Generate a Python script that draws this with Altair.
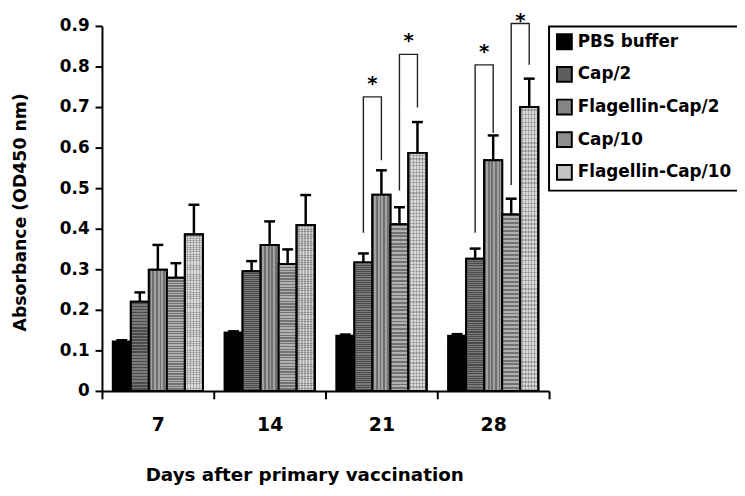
import altair as alt
import pandas as pd

# ---------------- data ----------------
days = ["7", "14", "21", "28"]
groups = ["PBS buffer", "Cap/2", "Flagellin-Cap/2", "Cap/10", "Flagellin-Cap/10"]

pbs = [0.122, 0.144, 0.136, 0.136]
pbs_err = [0.003, 0.003, 0.003, 0.004]
cap2 = [0.220, 0.295, 0.317, 0.326]
cap2_err = [0.023, 0.025, 0.022, 0.025]
fcap2 = [0.299, 0.360, 0.484, 0.569]
fcap2_err = [0.061, 0.058, 0.060, 0.061]
cap10 = [0.279, 0.313, 0.411, 0.435]
cap10_err = [0.036, 0.036, 0.042, 0.039]
fcap10 = [0.386, 0.409, 0.587, 0.700]
fcap10_err = [0.073, 0.074, 0.076, 0.070]

# significance brackets
br_day = ["21", "21", "28", "28"]
br_from = ["Cap/2", "Cap/10", "Cap/2", "Cap/10"]
br_to = ["Flagellin-Cap/2", "Flagellin-Cap/10", "Flagellin-Cap/2", "Flagellin-Cap/10"]
br_low_from = [0.390, 0.494, 0.390, 0.508]
br_low_to = [0.569, 0.699, 0.636, 0.804]
br_top = [0.725, 0.830, 0.804, 0.906]
star_y = [0.757, 0.862, 0.835, 0.912]

y_ticks = [0, 0.1, 0.2, 0.3, 0.4, 0.5, 0.6, 0.7, 0.8, 0.9]

# ---------------- tables ----------------
series = [(pbs, pbs_err), (cap2, cap2_err), (fcap2, fcap2_err), (cap10, cap10_err), (fcap10, fcap10_err)]
rows = []
for g, (vals, errs) in zip(groups, series):
    for d, v, e in zip(days, vals, errs):
        rows.append({"day": d, "group": g, "value": v, "upper": round(v + e, 4)})
df = pd.DataFrame(rows)

brows = []
srows = []
for i in range(len(br_day)):
    pts = [(br_from[i], br_low_from[i]), (br_from[i], br_top[i]),
           (br_to[i], br_top[i]), (br_to[i], br_low_to[i])]
    for k, (g, yv) in enumerate(pts):
        brows.append({"bid": i, "order": k, "day": br_day[i], "group": g, "y": yv})
    srows.append({"day": br_day[i], "group": br_to[i], "y": star_y[i], "t": "*"})
bdf = pd.DataFrame(brows)
sdf = pd.DataFrame(srows)

FONT = "DejaVu Sans"

x_enc = alt.X("day:N", sort=days,
              scale=alt.Scale(paddingInner=0, paddingOuter=0),
              axis=alt.Axis(title="Days after primary vaccination", labelAngle=0,
                            tickBand="extent", tickSize=8, labelPadding=17,
                            labelFontSize=19, titleFontSize=18.5,
                            titleX=204.5, titleY=91, titleBaseline="alphabetic",
                            titleAlign="center"))
xo_enc = alt.XOffset("group:N", sort=groups,
                     scale=alt.Scale(paddingInner=0, paddingOuter=0.6))
y_axis = alt.Axis(title="Absorbance (OD450 nm)", values=y_ticks, tickSize=7,
                  labelPadding=6, labelFontSize=17, titleFontSize=17.5,
                  labelExpr="datum.value == 0 ? '0' : format(datum.value, '.1f')",
                  titleX=-82, titleY=188, titleBaseline="middle", titleAngle=-90,
                  titleAlign="center")
y_scale = alt.Scale(domain=[0, 0.9], nice=False)


def Y(field):
    return alt.Y(field, scale=y_scale, axis=y_axis)


def stripes(n, c1, c2, vertical, frac=0.5):
    stops = []
    for i in range(n):
        a = i / n
        b = (i + frac) / n
        c = (i + 1) / n
        stops += [alt.GradientStop(offset=a, color=c1), alt.GradientStop(offset=b, color=c1),
                  alt.GradientStop(offset=b, color=c2), alt.GradientStop(offset=c, color=c2)]
    if vertical:
        return alt.LinearGradient(gradient="linear", stops=stops, x1=0, y1=0, x2=1, y2=0)
    return alt.LinearGradient(gradient="linear", stops=stops, x1=0, y1=0, x2=0, y2=1)


base = alt.Chart(df)

bars = base.mark_bar(stroke="black", strokeWidth=2).encode(
    x=x_enc, xOffset=xo_enc, y=Y("value:Q"),
    fill=alt.Fill("group:N", sort=groups,
                  scale=alt.Scale(domain=groups,
                                  range=["#000000", "#5e5e5e", "#858585", "#8e8e8e", "#c4c4c4"]),
                  legend=alt.Legend(title=None, orient="none", legendX=452, legendY=0.5)),
)

def overlay(group, fill, opacity=1.0):
    return base.transform_filter(alt.datum.group == group).mark_bar(
        fill=fill, fillOpacity=opacity, stroke="black", strokeWidth=2
    ).encode(x=x_enc, xOffset=xo_enc, y=Y("value:Q"))

ov_fc2 = overlay("Flagellin-Cap/2", stripes(5, "#6f6f6f", "#a2a2a2", True))
ov_c10 = overlay("Cap/10", stripes(45, "#727272", "#b0b0b0", False))
ov_c2 = overlay("Cap/2", stripes(60, "#4c4c4c", "#7a7a7a", False))
ov_fc10 = overlay("Flagellin-Cap/10", stripes(70, "#d8d8d8", "#8a8a8a", False, 0.6))
ov_fc10b = overlay("Flagellin-Cap/10", stripes(6, "#d8d8d8", "#8a8a8a", True, 0.6), 0.5)

err_rule = base.mark_rule(color="black", strokeWidth=2.5).encode(
    x=x_enc, xOffset=xo_enc, y=Y("value:Q"), y2="upper:Q")
err_cap = base.mark_tick(color="black", size=11, thickness=2.5, opacity=1).encode(
    x=x_enc, xOffset=xo_enc, y=Y("upper:Q"))

brackets = alt.Chart(bdf).mark_line(color="#222222", strokeWidth=1.4).encode(
    x=x_enc, xOffset=xo_enc, y=Y("y:Q"), detail="bid:N", order="order:Q")

stars = alt.Chart(sdf).mark_text(fontSize=20, fontWeight="bold", font=FONT, dx=-9, dy=6,
                                 baseline="alphabetic", color="black").encode(
    x=x_enc, xOffset=xo_enc, y=Y("y:Q"), text="t:N")

chart = alt.layer(bars, ov_c2, ov_fc2, ov_c10, ov_fc10, ov_fc10b, err_rule, err_cap,
                  brackets, stars).properties(
    width=452, height=369,
    autosize=alt.AutoSizeParams(type="none"),
    padding={"left": 95, "top": 15.5, "right": 190, "bottom": 95},
).configure_view(strokeWidth=0).configure_axis(
    domainColor="black", domainWidth=2, tickColor="black", tickWidth=2,
    labelFont=FONT, labelFontWeight="bold", labelColor="black",
    titleFont=FONT, titleFontWeight="bold", titleColor="black", grid=False,
).configure_legend(
    strokeColor="black", strokeWidth=2, padding=7, rowPadding=10,
    symbolType="square", symbolSize=225, symbolStrokeColor="black",
    symbolStrokeWidth=2, symbolOpacity=1, labelFont=FONT, labelFontWeight="bold",
    labelFontSize=17, labelColor="black", labelOffset=5, labelLimit=300,
)

chart.save("out.html", embed_options={"renderer": "svg", "actions": False})
